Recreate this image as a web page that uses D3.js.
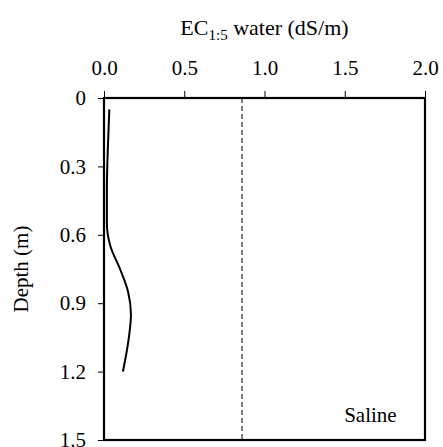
<!DOCTYPE html>
<html>
<head>
<meta charset="utf-8">
<script src="https://cdn.jsdelivr.net/npm/d3@7"></script>
<style>
  body { margin: 0; background: #fff; }
  text { font-family: "Liberation Serif", "Times New Roman", serif; fill: #000; }
</style>
</head>
<body>
<div id="chart"></div>
<script>
// EC profile (depth in m, EC in dS/m)
const depths = [0.05, 0.2, 0.4, 0.55, 0.65, 0.75, 0.85, 0.95, 1.05, 1.2];
const ecValues = [0.033, 0.025, 0.018, 0.018, 0.04, 0.1, 0.15, 0.168, 0.155, 0.118];
const threshold = 0.86;
const xTicks = [0, 0.5, 1.0, 1.5, 2.0];
const yTicks = [0, 0.3, 0.6, 0.9, 1.2, 1.5];

const margin = { top: 98, right: 18, bottom: 7, left: 104 };
const width = 443 - margin.left - margin.right;
const height = 447 - margin.top - margin.bottom;

const svg = d3.select("#chart")
  .append("svg")
  .attr("width", 443)
  .attr("height", 447)
  .append("g")
  .attr("transform", `translate(${margin.left},${margin.top})`);

const x = d3.scaleLinear().domain([0, 2]).range([0, width]);
const y = d3.scaleLinear().domain([0, 1.5]).range([0, height]);

// Top axis
const xAxis = svg.append("g")
  .call(d3.axisTop(x).tickValues(xTicks).tickFormat(d3.format(".1f")).tickSize(7).tickPadding(16));
xAxis.select(".domain").remove();
xAxis.selectAll("line").attr("stroke", "#000").attr("stroke-width", 1);
xAxis.selectAll("text")
  .style("font-size", "21px")
  .style("font-family", "Liberation Serif, serif");

// Left axis
const yAxis = svg.append("g")
  .call(d3.axisLeft(y).tickValues(yTicks).tickFormat(d => d === 0 ? "0" : d3.format(".1f")(d)).tickSize(6).tickPadding(12));
yAxis.select(".domain").remove();
yAxis.selectAll("line").attr("stroke", "#000").attr("stroke-width", 1);
yAxis.selectAll("text")
  .style("font-size", "21px")
  .style("font-family", "Liberation Serif, serif");

// Frame
svg.append("rect")
  .attr("x", 0)
  .attr("y", 0)
  .attr("width", width)
  .attr("height", height)
  .attr("fill", "none")
  .attr("stroke", "#000")
  .attr("stroke-width", 2.2);

// Saline threshold
svg.append("line")
  .attr("x1", x(threshold))
  .attr("x2", x(threshold))
  .attr("y1", 0)
  .attr("y2", height)
  .attr("stroke", "#000")
  .attr("stroke-width", 1)
  .attr("stroke-dasharray", "5,3");

// Profile line
const data = depths.map((d, i) => ({ depth: d, ec: ecValues[i] }));
const line = d3.line()
  .x(d => x(d.ec))
  .y(d => y(d.depth))
  .curve(d3.curveMonotoneY);

svg.append("path")
  .datum(data)
  .attr("d", line)
  .attr("fill", "none")
  .attr("stroke", "#000")
  .attr("stroke-width", 2);

// Labels
const title = svg.append("text")
  .attr("x", width / 2)
  .attr("y", -63)
  .style("text-anchor", "middle")
  .style("font-size", "22px");
title.append("tspan").text("EC");
title.append("tspan").text("1:5").attr("dy", 5).style("font-size", "15px");
title.append("tspan").text(" water (dS/m)").attr("dy", -5);

svg.append("text")
  .attr("transform", "rotate(-90)")
  .attr("x", -(height / 2) + 0)
  .attr("y", -76)
  .style("text-anchor", "middle")
  .style("font-size", "21px")
  .text("Depth (m)");

svg.append("text")
  .attr("x", x(1.66))
  .attr("y", y(1.42))
  .style("text-anchor", "middle")
  .style("font-size", "21px")
  .text("Saline");
</script>
</body>
</html>
